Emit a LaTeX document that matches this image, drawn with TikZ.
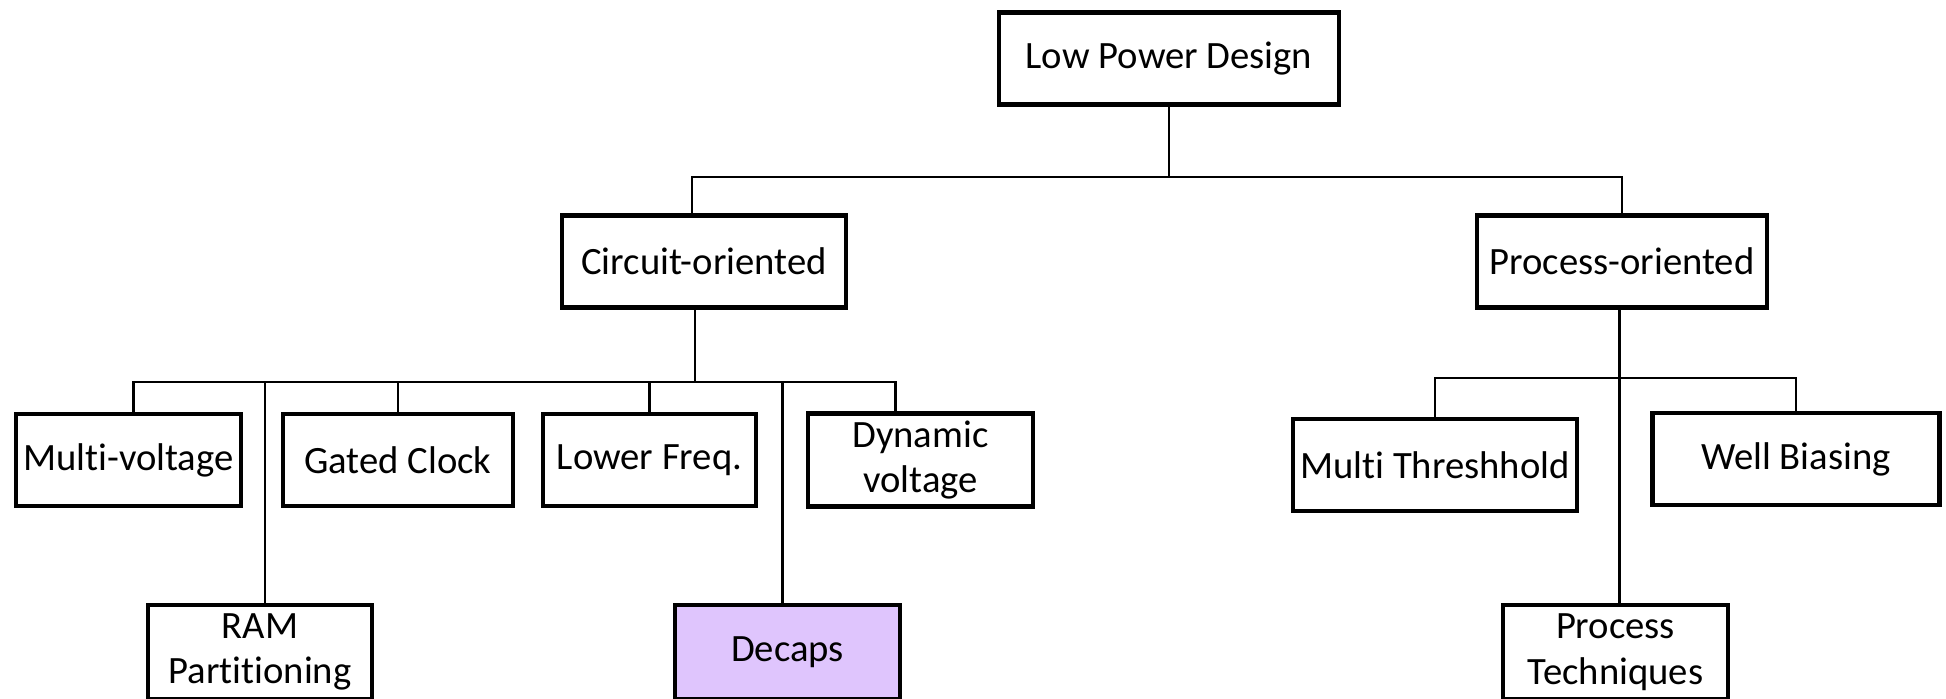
\documentclass[tikz,border=0pt]{standalone}
\usepackage{fontspec}
\setmainfont{Carlito}[Ligatures=NoCommon]
\usetikzlibrary{positioning}

\definecolor{decapfill}{RGB}{223,197,253}

\begin{document}
\begin{tikzpicture}[
                box/.style={draw, line width=1.2pt, align=center, inner sep=2pt,
                    minimum height=0.92cm, font=\fontsize{11}{13}\selectfont},
                wire/.style={line width=0.6pt}
            ]

            \clip (0,0) rectangle (19.46,-6.99);

            % top and second level
            \node[box, minimum width=3.40cm] (lpd) at (11.69,-0.585) {Low Power Design};
            \node[box, minimum width=2.84cm] (cir) at (7.04,-2.615) {Circuit-oriented};
            \node[box, minimum width=2.90cm] (pro) at (16.22,-2.615) {Process-oriented};

            % circuit techniques
            \node[box, minimum width=2.25cm] (mv) at (1.285,-4.60) {Multi-voltage};
            \node[box, minimum width=2.30cm] (gc) at (3.98,-4.60) {Gated Clock};
            \node[box, minimum width=2.13cm] (lf) at (6.495,-4.60) {Lower Freq.};
            \node[box, minimum width=2.25cm] (dv) at (9.205,-4.60) {Dynamic\\voltage};
            \node[box, minimum width=2.24cm, minimum height=0.94cm] (ram) at (2.60,-6.52) {RAM\\Partitioning};
            \node[box, minimum width=2.25cm, minimum height=0.94cm, fill=decapfill] (dec) at (7.875,-6.52) {Decaps};

            % process techniques
            \node[box, minimum width=2.84cm] (mt) at (14.35,-4.65) {Multi Threshhold};
            \node[box, minimum width=2.87cm] (wb) at (17.96,-4.59) {Well Biasing};
            \node[box, minimum width=2.25cm, minimum height=0.94cm] (pt) at (16.155,-6.52) {Process\\Techniques};

            \coordinate (topbus) at (0,-1.77);
            \coordinate (cbus) at (0,-3.82);
            \coordinate (pbus) at (0,-3.78);

            \draw[wire] (lpd.south) -- (lpd.south |- topbus);
            \draw[wire] ([xshift=-0.12cm]cir.north) |- (lpd.south |- topbus) -| (pro.north);

            \draw[wire] ([xshift=-0.09cm]cir.south) -- ([xshift=-0.09cm]cir.south |- cbus);
            \draw[wire] ([xshift=0.05cm]mv.north) |- ([xshift=-0.25cm]dv.north |- cbus) -- ([xshift=-0.25cm]dv.north);
            \draw[wire] (gc.north) -- (gc.north |- cbus);
            \draw[wire] (lf.north) -- (lf.north |- cbus);
            \draw[wire] ([xshift=0.05cm]ram.north) -- ([xshift=0.05cm]ram.north |- cbus);
            \draw[wire] ([xshift=-0.05cm]dec.north) -- ([xshift=-0.05cm]dec.north |- cbus);

            \draw[wire] ([xshift=0.04cm]pt.north) -- ([xshift=0.04cm]pt.north |- pro.south);
            \draw[wire] (mt.north) |- (wb.north |- pbus) -- (wb.north);
        \end{tikzpicture}
\end{document}
